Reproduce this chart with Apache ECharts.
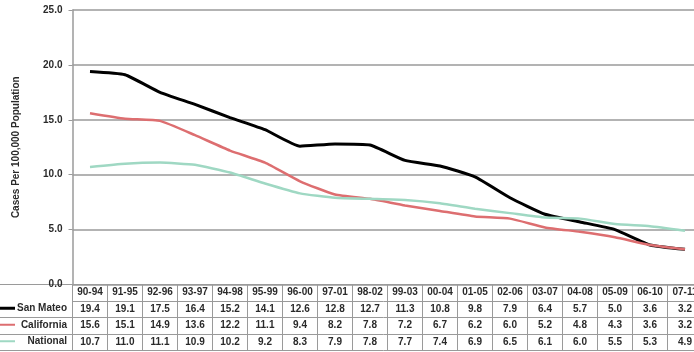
<!DOCTYPE html>
<html>
<head>
<meta charset="utf-8">
<script src="https://cdn.jsdelivr.net/npm/echarts@6/dist/echarts.min.js"></script>
<style>
html,body{margin:0;padding:0;background:#fff;}
#chart{width:694px;height:352px;}
</style>
</head>
<body>
<div id="chart"></div>
<script>
const categories = ['90-94','91-95','92-96','93-97','94-98','95-99','96-00','97-01','98-02','99-03','00-04','01-05','02-06','03-07','04-08','05-09','06-10','07-11'];
const sanMateo   = [19.4,19.1,17.5,16.4,15.2,14.1,12.6,12.8,12.7,11.3,10.8,9.8,7.9,6.4,5.7,5.0,3.6,3.2];
const california = [15.6,15.1,14.9,13.6,12.2,11.1,9.4,8.2,7.8,7.2,6.7,6.2,6.0,5.2,4.8,4.3,3.6,3.2];
const national   = [10.7,11.0,11.1,10.9,10.2,9.2,8.3,7.9,7.8,7.7,7.4,6.9,6.5,6.1,6.0,5.5,5.3,4.9];
const seriesNames = ['San Mateo','California','National'];
const seriesData = [sanMateo, california, national];
const yMin = 0, yMax = 25, yStep = 5;
const yTitle = 'Cases Per 100,000 Population';

const colors = ['#000000','#dd6e70','#9fd8c3'];
const lineWidths = [3, 2.5, 2.5];
const gridColor = '#9a9a9a';
const textColor = '#2a2a2a';
const tableFont = "'Liberation Sans Narrow','Liberation Sans',Arial,sans-serif";
const mainFont = "'Liberation Sans',Arial,sans-serif";

const plotLeft = 72.5, plotTop = 10, plotH = 274.5, rowH = 16.5, colW = 35;
const gridBase = {top: plotTop, height: plotH, outerBoundsMode: 'none', containLabel: false};

const xAxes = [];
xAxes.push({
  type: 'category', gridIndex: 0, data: categories, boundaryGap: true,
  axisLine: {show: true, lineStyle: {color: gridColor, width: 1}},
  axisTick: {show: false}, axisLabel: {show: false}
});
const rowFormatters = [
  (v, i) => categories[i],
  (v, i) => sanMateo[i].toFixed(1),
  (v, i) => california[i].toFixed(1),
  (v, i) => national[i].toFixed(1)
];
rowFormatters.forEach((fmt, r) => {
  xAxes.push({
    type: 'category', gridIndex: 0, data: categories, boundaryGap: true,
    position: 'bottom', offset: rowH * (r + 1),
    axisLine: {show: true, lineStyle: {color: gridColor, width: 1}},
    axisTick: {show: true, inside: true, length: rowH, interval: 0, alignWithLabel: false,
               lineStyle: {color: gridColor, width: 1}},
    axisLabel: {show: true, inside: true, interval: 0, margin: 3.5, formatter: fmt,
                fontSize: 10, fontWeight: 'bold', fontFamily: tableFont, color: textColor, lineHeight: 10}
  });
});
[1,2,3,4].forEach(r => {
  xAxes.push({
    type: 'category', gridIndex: 1, data: [''], position: 'bottom', offset: rowH * r,
    axisLine: {show: true, lineStyle: {color: gridColor, width: 1}},
    axisTick: {show: false}, axisLabel: {show: false}
  });
});

const legendKeyH = [3, 2, 2];
const legends = seriesNames.map((n, i) => ({
  data: [n], orient: 'horizontal', left: 0,
  top: plotTop + plotH + rowH * (i + 1) + rowH / 2 - 6,
  itemWidth: 15, itemHeight: legendKeyH[i], itemGap: 0, icon: 'rect', padding: 0,
  formatter: '{t|{name}}',
  textStyle: {
    color: textColor,
    rich: {t: {width: 47, align: 'right', fontSize: 10, fontWeight: 'bold', fontFamily: mainFont,
               color: textColor, lineHeight: 12}}
  },
  selectedMode: false
}));

const option = {
  animation: false,
  backgroundColor: '#fff',
  grid: [
    Object.assign({left: plotLeft, width: colW * categories.length}, gridBase),
    Object.assign({left: 0, width: plotLeft}, gridBase)
  ],
  legend: legends,
  xAxis: xAxes,
  yAxis: [
    {
      type: 'value', gridIndex: 0, min: yMin, max: yMax, interval: yStep,
      name: yTitle, nameLocation: 'middle', nameGap: 51, nameRotate: 90,
      nameTextStyle: {fontSize: 10, fontWeight: 'bold', fontFamily: mainFont, color: textColor},
      axisLine: {show: true, lineStyle: {color: gridColor, width: 1.5}},
      axisTick: {show: true, length: 4, lineStyle: {color: gridColor}},
      axisLabel: {formatter: v => v.toFixed(1), margin: 10, fontSize: 10, fontWeight: 'bold',
                  fontFamily: mainFont, color: textColor},
      splitLine: {show: true, lineStyle: {color: gridColor, width: 1.5}}
    },
    {type: 'value', gridIndex: 1, show: false, splitLine: {show: false}}
  ],
  series: seriesNames.map((n, i) => ({
    name: n, type: 'line', xAxisIndex: 0, yAxisIndex: 0, data: seriesData[i],
    symbol: 'none', smooth: 0.15, color: colors[i],
    lineStyle: {color: colors[i], width: lineWidths[i]}
  }))
};

const chart = echarts.init(document.getElementById('chart'), null, {renderer: 'canvas'});
chart.setOption(option);
</script>
</body>
</html>
